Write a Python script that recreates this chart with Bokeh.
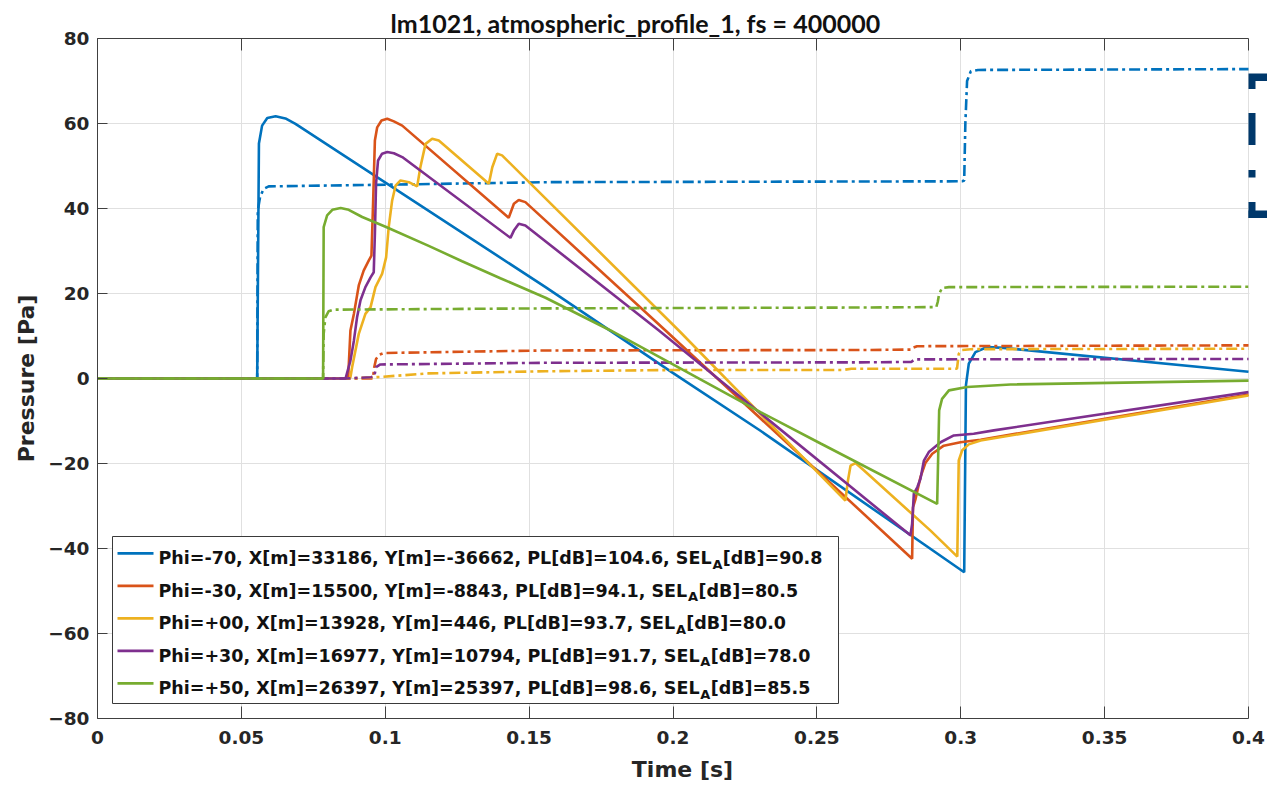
from bokeh.plotting import figure
from bokeh.models import FixedTicker, LinearAxis, BoxAnnotation, Label, Arrow
from bokeh.embed import file_html
from bokeh.resources import INLINE

# ---------------- data ----------------
TITLE = "lm1021, atmospheric_profile_1, fs = 400000"
X_LABEL = "Time [s]"
Y_LABEL = "Pressure [Pa]"
X_TICKS = [0.0, 0.05, 0.1, 0.15, 0.2, 0.25, 0.3, 0.35, 0.4]
X_TICK_LABELS = ["0", "0.05", "0.1", "0.15", "0.2", "0.25", "0.3", "0.35", "0.4"]
Y_TICKS = [-80, -60, -40, -20, 0, 20, 40, 60, 80]

COLORS = ["#0072BD", "#D95319", "#EDB120", "#7E2F8E", "#77AC30"]

LEG_PHI = ["-70", "-30", "+00", "+30", "+50"]
LEG_X = [33186, 15500, 13928, 16977, 26397]
LEG_Y = [-36662, -8843, 446, 10794, 25397]
LEG_PL = [104.6, 94.1, 93.7, 91.7, 98.6]
LEG_SEL = [90.8, 80.5, 80.0, 78.0, 85.5]

# Phi=-70 (blue)
t_blue = [0, 0.0555, 0.0561, 0.0572, 0.0590, 0.0619, 0.0653, 0.0688, 0.1557, 0.1998,
          0.2304, 0.3012, 0.3018, 0.3028, 0.3051, 0.3092, 0.3149, 0.4]
p_blue = [0, 0, 55.3, 59.5, 61.3, 61.7, 61.2, 59.9, 21.5, 1.4,
          -12.3, -45.6, -1.6, 3.5, 6.2, 7.4, 7.2, 1.6]
t_blue_c = [0, 0.0555, 0.0557, 0.0565, 0.0577, 0.0595, 0.1000, 0.1570, 0.3005, 0.3012,
            0.3016, 0.3022, 0.3035, 0.3060, 0.4]
p_blue_c = [0, 0, 39.5, 42.7, 44.6, 45.2, 45.6, 46.2, 46.4, 46.6,
            60.0, 70.0, 72.3, 72.6, 72.8]

# Phi=-30 (orange)
t_orange = [0, 0.0871, 0.0879, 0.0891, 0.0908, 0.0925, 0.0943, 0.0952, 0.0958, 0.0964,
            0.0972, 0.0987, 0.1007, 0.1030, 0.1059, 0.1429, 0.1447, 0.1464, 0.1487, 0.1974,
            0.2831, 0.2834, 0.2843, 0.2860, 0.2877, 0.2901, 0.2941, 0.2999, 0.3069, 0.4]
p_orange = [0, 0, 11.3, 15.2, 21.9, 25.4, 27.8, 28.9, 41.9, 56.0,
            59.1, 60.7, 61.1, 60.5, 59.5, 37.8, 41.1, 42.0, 41.5, 11.3,
            -42.4, -30.3, -28.3, -23.2, -19.9, -17.7, -15.8, -15.0, -14.4, -3.8]
t_orange_c = [0, 0.0957, 0.0962, 0.0968, 0.0980, 0.0995, 0.1557, 0.2652, 0.2829, 0.2836,
              0.2848, 0.4]
p_orange_c = [0, 0, 2.7, 4.6, 5.6, 6.0, 6.6, 6.7, 6.8, 7.3,
              7.6, 7.8]

# Phi=+00 (yellow)
t_yellow = [0, 0.0873, 0.0879, 0.0885, 0.0908, 0.0931, 0.0949, 0.0966, 0.0989, 0.1003,
            0.1012, 0.1024, 0.1036, 0.1053, 0.1082, 0.1111, 0.1122, 0.1140, 0.1163, 0.1186,
            0.1360, 0.1372, 0.1389, 0.1406, 0.2020, 0.2513, 0.2599, 0.2608, 0.2617, 0.2634,
            0.2663, 0.2895, 0.2988, 0.2993, 0.3005, 0.3028, 0.3069, 0.4]
p_yellow = [0, 0, 0.3, 2.7, 10.5, 15.2, 16.8, 21.5, 24.6, 28.5,
            35.6, 41.9, 45.4, 46.6, 46.2, 45.2, 49.7, 55.2, 56.4, 56.0,
            45.8, 49.7, 52.9, 52.5, 11.3, -22.8, -28.7, -24.0, -20.5, -19.9,
            -21.6, -35.8, -41.9, -19.3, -16.9, -15.5, -14.6, -4.0]
t_yellow_c = [0, 0.0880, 0.0990, 0.1151, 0.1557, 0.2000, 0.2590, 0.2620, 0.2987, 0.2993,
              0.3005, 0.3034, 0.4]
p_yellow_c = [0, 0, 0.4, 1.2, 1.7, 2.0, 2.0, 2.3, 2.3, 5.8,
              6.7, 6.9, 7.0]

# Phi=+30 (purple)
t_purple = [0, 0.0862, 0.0879, 0.0891, 0.0902, 0.0914, 0.0931, 0.0949, 0.0960, 0.0964,
            0.0968, 0.0975, 0.0989, 0.1007, 0.1030, 0.1059, 0.1435, 0.1447, 0.1464, 0.1487,
            0.1951, 0.2825, 0.2831, 0.2837, 0.2849, 0.2860, 0.2872, 0.2889, 0.2930, 0.2976,
            0.3045, 0.3115, 0.4]
p_purple = [0, 0, 4.2, 8.9, 14.4, 18.4, 21.5, 23.8, 25.0, 34.0,
            45.8, 51.3, 52.9, 53.3, 53.0, 52.1, 33.1, 34.8, 36.4, 36.0,
            11.3, -36.9, -34.2, -27.1, -25.6, -23.6, -19.3, -17.3, -15.0, -13.4,
            -13.0, -12.2, -3.2]
t_purple_c = [0, 0.0862, 0.0950, 0.0962, 0.0968, 0.0983, 0.1557, 0.2652, 0.2828, 0.2836,
              0.2845, 0.4]
p_purple_c = [0, 0, 0.3, 0.5, 2.7, 3.3, 3.7, 3.8, 3.9, 4.3,
              4.5, 4.6]

# Phi=+50 (green)
t_green = [0, 0.0784, 0.0786, 0.0798, 0.0816, 0.0845, 0.0873, 0.0920, 0.1001, 0.1151,
           0.1267, 0.1400, 0.1557, 0.1783, 0.2304, 0.2513, 0.2918, 0.2925, 0.2935, 0.2959,
           0.3022, 0.3173, 0.4]
p_green = [0, 0, 35.6, 38.4, 39.7, 40.1, 39.7, 38.0, 35.7, 31.2,
           27.6, 23.6, 19.0, 11.3, -7.9, -15.3, -29.5, -7.5, -4.8, -2.8,
           -2.0, -1.4, -0.5]
t_green_c = [0, 0.0784, 0.0786, 0.0792, 0.0803, 0.0821, 0.1557, 0.2652, 0.2915, 0.2920,
             0.2925, 0.2935, 0.2959, 0.4]
p_green_c = [0, 0, 10.5, 14.4, 15.8, 16.2, 16.5, 16.7, 16.8, 18.0,
             19.9, 21.3, 21.5, 21.6]

SERIES = [
    (t_blue, p_blue, t_blue_c, p_blue_c),
    (t_orange, p_orange, t_orange_c, p_orange_c),
    (t_yellow, p_yellow, t_yellow_c, p_yellow_c),
    (t_purple, p_purple, t_purple_c, p_purple_c),
    (t_green, p_green, t_green_c, p_green_c),
]

# ---------------- layout (pixels of the 1267x785 page) ----------------
W, H = 1267, 785
FL, FR, FT, FB = 97, 1248, 38, 718      # frame: t=0 .. 0.4, p=80 .. -80
T_MAX = 0.4
PX_PER_S = (FR - FL) / T_MAX
X_END = (W - FL) / PX_PER_S


def tx(px):
    return (px - FL) / PX_PER_S


def py(y):
    return 80 - (y - FT) * 160.0 / (FB - FT)


AX_COL = "#404040"
TXT_COL = "#262626"
GRID_COL = "#e0e0e0"
FONT = "DejaVu Sans"

p = figure(width=W, height=H, x_range=(0, X_END), y_range=(-80, 80),
           output_backend="svg", toolbar_location=None,
           min_border_left=FL, min_border_right=0, min_border_top=FT,
           min_border_bottom=H - FB, background_fill_color="white",
           border_fill_color="white")
p.outline_line_color = None

p.title.text = TITLE
p.title.text_font = "Lato"
p.title.text_font_size = "25px"
p.title.text_font_style = "bold"
p.title.text_color = "#111111"
p.title.align = "left"
p.title.offset = 293
p.title.standoff = 2

xt = FixedTicker(ticks=X_TICKS)
yt = FixedTicker(ticks=Y_TICKS)
overrides = {t: lab for t, lab in zip(X_TICKS, X_TICK_LABELS)}

xa = p.xaxis[0]
ya = p.yaxis[0]

xa.ticker = xt
xa.bounds = (0, T_MAX)
xa.major_label_overrides = overrides
xa.axis_label = X_LABEL
xa.axis_label_standoff = 10
xa.major_label_standoff = 12
xa.major_tick_in = 12
xa.major_tick_out = 0
xa.minor_tick_line_color = None

ya.ticker = yt
ya.axis_label = Y_LABEL
ya.axis_label_standoff = 6
ya.major_label_standoff = 8
ya.major_tick_in = 10
ya.major_tick_out = 0
ya.minor_tick_line_color = None

for ax in [xa, ya]:
    ax.axis_line_color = AX_COL
    ax.major_tick_line_color = AX_COL
    ax.major_label_text_font = FONT
    ax.major_label_text_font_style = "bold"
    ax.major_label_text_font_size = "18.5px"
    ax.major_label_text_color = TXT_COL
    ax.axis_label_text_font = FONT
    ax.axis_label_text_font_style = "bold"
    ax.axis_label_text_font_size = "22px"
    ax.axis_label_text_color = TXT_COL

top = LinearAxis(ticker=xt, bounds=(0, T_MAX), major_label_text_font_size="0px",
                 major_label_text_color=None,
                 major_tick_in=12, major_tick_out=0, major_label_standoff=0,
                 minor_tick_line_color=None, axis_line_color=AX_COL,
                 major_tick_line_color=AX_COL)
p.add_layout(top, "above")

p.xgrid.ticker = xt
p.ygrid.ticker = yt
p.xgrid.grid_line_color = GRID_COL
p.ygrid.grid_line_color = GRID_COL

# mask of the grid beyond t = 0.4
p.quad(left=[tx(FR + 1)], right=[X_END + 1], top=[90], bottom=[-90],
       fill_color="white", line_color=None)

# curves: solid pressure, dash-dot cumulative
for (ts, ps, tc, pc), col in zip(SERIES, COLORS):
    p.line(ts, ps, line_color=col, line_width=2.6)
    p.line(tc, pc, line_color=col, line_width=2.6, line_dash="11 4 3 4")

# dark bracket beyond the right edge (pixel rectangles: x0, x1, y0, y1)
BRACKET_PX = [(1248, 1267, 73, 80.5), (1248, 1255, 80.5, 88.5), (1248, 1255, 112.5, 144.5),
              (1248, 1255, 169.5, 177), (1248, 1255, 201.5, 217.5), (1248, 1267, 210, 217.5)]
p.quad(left=[tx(b[0]) for b in BRACKET_PX], right=[tx(b[1]) for b in BRACKET_PX],
       top=[py(b[2]) for b in BRACKET_PX], bottom=[py(b[3]) for b in BRACKET_PX],
       fill_color="#00386b", line_color=None)

# ---------------- legend (custom, to allow the subscript A) ----------------
DJB = {' ': 713, ',': 780, '-': 852, '.': 780, '=': 1716, '+': 1716, '[': 934, ']': 934,
       'A': 1585, 'B': 1561, 'E': 1399, 'L': 1305, 'P': 1532, 'S': 1483, 'X': 1573,
       'Y': 1477, 'd': 1466, 'h': 1458, 'i': 702, 'm': 2134}
for dgt in "0123456789":
    DJB[dgt] = 1425


def text_w(s, size):
    return sum(DJB.get(c, 1300) for c in s) / 2048.0 * size


LEG_FS = 17.5
SUB_FS = 13.0
LB_L, LB_R, LB_T, LB_B = 112, 838, 536, 703
p.add_layout(BoxAnnotation(left=tx(LB_L), right=tx(LB_R), top=py(LB_T), bottom=py(LB_B),
                           fill_color="white", fill_alpha=1.0, line_color="#3a3a3a",
                           line_width=1, line_alpha=1.0))
BASE0, ROW_DY = 557.7, 32.5
for i in range(5):
    base = BASE0 + i * ROW_DY
    yl = base - 4.8
    p.add_layout(Arrow(x_start=tx(117), y_start=py(yl), x_end=tx(153), y_end=py(yl),
                       start=None, end=None, line_color=COLORS[i], line_width=2.6))
    part1 = f"Phi={LEG_PHI[i]}, X[m]={LEG_X[i]}, Y[m]={LEG_Y[i]}, PL[dB]={LEG_PL[i]:.1f}, SEL"
    part3 = f"[dB]={LEG_SEL[i]:.1f}"
    w1 = text_w(part1, LEG_FS)
    wa = text_w("A", SUB_FS)
    common = dict(text_font=FONT, text_font_style="bold", text_color="#111111",
                  text_baseline="alphabetic", text_align="left")
    p.add_layout(Label(x=tx(158), y=py(base), text=part1, text_font_size=f"{LEG_FS}px", **common))
    p.add_layout(Label(x=tx(158), y=py(base), x_offset=w1 + 0.3, y_offset=-6, text="A",
                       text_font_size=f"{SUB_FS}px", **common))
    p.add_layout(Label(x=tx(158), y=py(base), x_offset=w1 + wa + 0.6, text=part3,
                       text_font_size=f"{LEG_FS}px", **common))

open("out.html", "w").write(file_html(p, INLINE))
